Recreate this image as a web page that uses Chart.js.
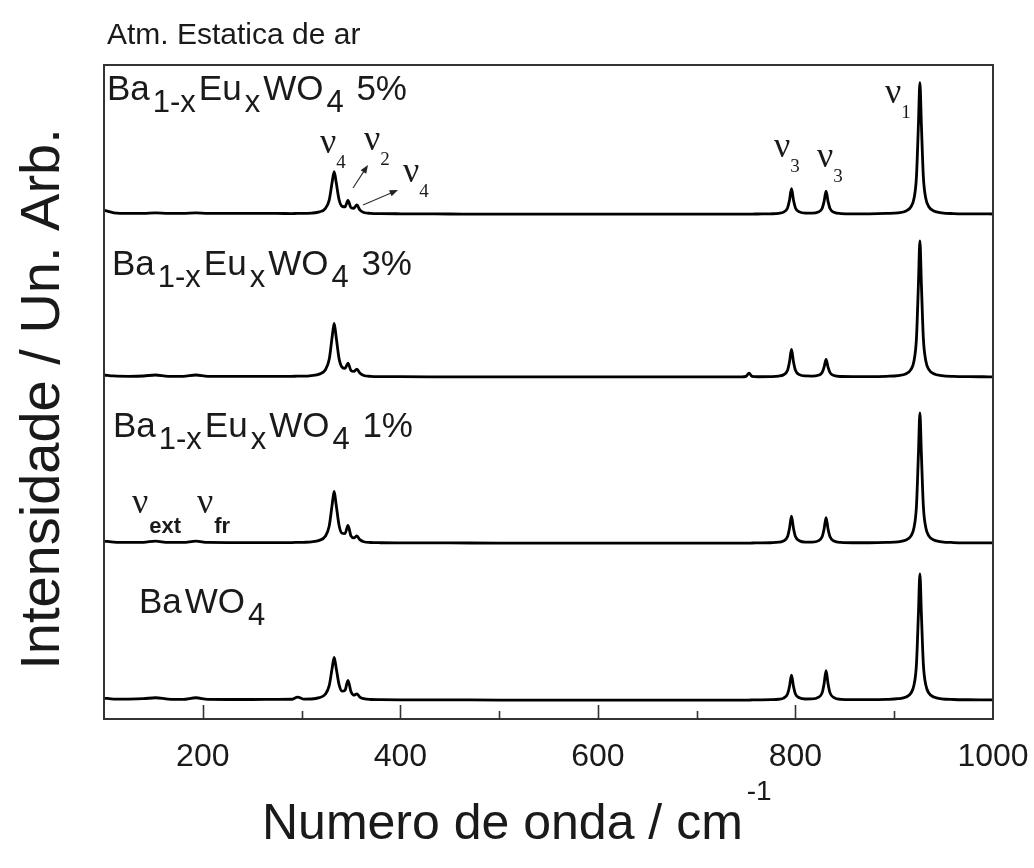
<!DOCTYPE html>
<html>
<head>
<meta charset="utf-8">
<script src="https://cdn.jsdelivr.net/npm/chart.js@4.4.1/dist/chart.umd.min.js"></script>
<style>
  html, body { margin: 0; padding: 0; background: #fff; }
  #wrap { width: 1034px; height: 868px; }
</style>
</head>
<body>
<div id="wrap"><canvas id="raman" width="1034" height="868"></canvas></div>
<script>
// Raman spectra of Ba(1-x)Eu(x)WO4 (arb. units, baseline = 0)
const wavenumber = [
  100, 110, 125, 140, 152, 165, 180, 193, 205, 225,
  250, 275, 290, 296, 302, 310, 318, 324, 328, 331,
  333, 335, 338, 341, 344, 347, 350, 353, 356, 359,
  363, 370, 380, 400, 450, 500, 550, 600, 650, 700,
  735, 745, 750, 753, 756, 762, 775, 783, 788, 792,
  794, 796, 798, 800, 804, 810, 817, 823, 827, 829,
  831, 833, 835, 839, 846, 858, 875, 892, 904, 912,
  917, 920, 922.5, 924.5, 926, 927.5, 929.5, 932, 935, 940,
  948, 960, 975, 990, 1000
];

const intBaWO4 = [
  0.3, 0.15, 0.15, 0.2, 0.35, 0.15, 0.1, 0.35, 0.1, 0.08,
  0.08, 0.1, 0.12, 0.45, 0.15, 0.16, 0.36, 0.88, 2.2, 4.9,
  6.5, 4.95, 2.35, 1.35, 1.5, 3.0, 1.3, 0.75, 0.95, 0.45,
  0.2, 0.08, 0.05, 0.03, 0.02, 0, 0, 0, 0, 0,
  0, 0, 0, 0, 0.01, 0.02, 0.05, 0.12, 0.3, 0.92,
  2.1, 3.8, 2.1, 0.92, 0.34, 0.16, 0.17, 0.4, 1.1, 2.5,
  4.5, 2.5, 1.1, 0.37, 0.11, 0.06, 0.05, 0.09, 0.2, 0.46,
  1.08, 2.28, 5.46, 13.2, 19.3, 13.2, 5.46, 2.28, 1.08, 0.46,
  0.19, 0.08, 0.04, 0.03, 0.02
];

const intEu1 = [
  0.3, 0.15, 0.1, 0.12, 0.3, 0.1, 0.1, 0.3, 0.1, 0.08,
  0.08, 0.08, 0.08, 0.1, 0.12, 0.18, 0.41, 1.03, 2.6, 5.9,
  7.9, 5.9, 2.7, 1.5, 1.45, 2.7, 1.1, 0.8, 1.08, 0.53,
  0.2, 0.09, 0.05, 0.03, 0.02, 0, 0, 0, 0, 0,
  0, 0, 0, 0, 0.01, 0.02, 0.05, 0.13, 0.33, 1.0,
  2.27, 4.1, 2.27, 1.0, 0.36, 0.16, 0.16, 0.34, 0.96, 2.16,
  3.9, 2.16, 0.96, 0.31, 0.1, 0.05, 0.05, 0.1, 0.2, 0.48,
  1.11, 2.35, 5.63, 13.6, 19.9, 13.6, 5.63, 2.35, 1.11, 0.48,
  0.2, 0.08, 0.04, 0.03, 0.02
];

const intEu3 = [
  0.3, 0.15, 0.1, 0.15, 0.3, 0.1, 0.1, 0.3, 0.1, 0.1,
  0.1, 0.1, 0.1, 0.12, 0.12, 0.2, 0.43, 1.07, 2.7, 6.15,
  8.2, 6.15, 2.8, 1.5, 1.3, 2.1, 1.0, 0.85, 1.2, 0.6,
  0.22, 0.1, 0.06, 0.04, 0.02, 0, 0, 0, 0, 0,
  0, 0.02, 0.1, 0.6, 0.1, 0.03, 0.05, 0.13, 0.34, 1.02,
  2.32, 4.2, 2.32, 1.02, 0.36, 0.15, 0.13, 0.25, 0.67, 1.5,
  2.7, 1.5, 0.66, 0.22, 0.07, 0.05, 0.05, 0.1, 0.21, 0.5,
  1.16, 2.45, 5.89, 14.2, 20.8, 14.2, 5.89, 2.45, 1.16, 0.5,
  0.21, 0.08, 0.04, 0.03, 0.02
];

const intEu5 = [
  0.6, 0.2, 0.1, 0.1, 0.2, 0.1, 0.1, 0.2, 0.1, 0.1,
  0.1, 0.1, 0.08, 0.1, 0.1, 0.15, 0.34, 0.85, 2.15, 4.9,
  6.5, 4.9, 2.2, 1.2, 1.1, 2.1, 1.0, 0.9, 1.4, 0.65,
  0.25, 0.12, 0.08, 0.05, 0.02, 0, 0, 0, 0, 0,
  0, 0, 0, 0, 0.01, 0.02, 0.05, 0.12, 0.31, 0.95,
  2.15, 3.9, 2.15, 0.95, 0.34, 0.15, 0.15, 0.31, 0.86, 1.94,
  3.5, 1.94, 0.86, 0.28, 0.09, 0.05, 0.05, 0.1, 0.2, 0.48,
  1.13, 2.37, 5.69, 13.7, 20.1, 13.7, 5.69, 2.37, 1.13, 0.48,
  0.2, 0.08, 0.04, 0.03, 0.02
];

const sampleNames = ['BaWO4', 'Ba1-xEuxWO4 1%', 'Ba1-xEuxWO4 3%', 'Ba1-xEuxWO4 5%'];
const sampleDoping = ['', '1%', '3%', '5%'];
const stackOffsets = [2.9, 26.9, 52.3, 77.2];
const xLabelTicks = [200, 400, 600, 800, 1000];

const spectra = [intBaWO4, intEu1, intEu3, intEu5];

const SANS = '"Liberation Sans", Arial, sans-serif';
const SERIF = '"Liberation Serif", "Times New Roman", serif';
const INK = '#1a1a1a';

// rich text: parts = [text, font, dy]
function drawRich(ctx, x, y, parts, gap) {
  let cx = x;
  parts.forEach(([txt, font, dy]) => {
    ctx.font = font;
    ctx.fillText(txt, cx, y + dy);
    cx += ctx.measureText(txt).width + (gap || 0);
  });
}

function formulaParts(doping) {
  const M = '35px ' + SANS, S = '31px ' + SANS;
  if (!doping) return [['Ba', M, 0], ['WO', M, 0], ['4', S, 12]];
  return [['Ba', M, 0], ['1-x', S, 12], ['Eu', M, 0], ['x', S, 12],
          ['WO', M, 0], ['4', S, 12], [' ' + doping, M, 0]];
}

// where the sample labels sit (px)
const sampleLabelPos = [[139, 613], [113, 437], [112, 275], [107, 100]];

// vibrational mode labels (px)
const modeLabels = [
  { x: 320, y: 153, sub: '4' },
  { x: 364, y: 150, sub: '2' },
  { x: 403, y: 182, sub: '4' },
  { x: 774, y: 157, sub: '3' },
  { x: 817, y: 167, sub: '3' },
  { x: 885, y: 103, sub: '1' },
  { x: 132, y: 513, sub: 'ext', sans: true },
  { x: 197, y: 513, sub: 'fr', sans: true }
];
const arrows = [
  [353, 188, 368, 165],
  [363, 205, 398, 190]
];

function arrow(ctx, x1, y1, x2, y2) {
  const ang = Math.atan2(y2 - y1, x2 - x1);
  const h = 9;
  ctx.beginPath();
  ctx.moveTo(x1, y1);
  ctx.lineTo(x2 - Math.cos(ang) * 5, y2 - Math.sin(ang) * 5);
  ctx.stroke();
  ctx.beginPath();
  ctx.moveTo(x2, y2);
  ctx.lineTo(x2 - h * Math.cos(ang - 0.38), y2 - h * Math.sin(ang - 0.38));
  ctx.lineTo(x2 - h * Math.cos(ang + 0.38), y2 - h * Math.sin(ang + 0.38));
  ctx.closePath();
  ctx.fill();
}

const decor = {
  id: 'decor',
  afterDatasetsDraw(chart) {
    const { ctx, chartArea: a, scales: { x } } = chart;
    ctx.save();

    // frame + inward ticks on the bottom axis
    ctx.strokeStyle = '#333';
    ctx.lineWidth = 2;
    ctx.strokeRect(a.left, a.top, a.right - a.left, a.bottom - a.top);
    ctx.lineWidth = 1.6;
    x.ticks.forEach(t => {
      if (t.value <= x.min || t.value >= x.max) return;
      const px = Math.round(x.getPixelForValue(t.value)) + 0.5;
      const len = t.value % 200 === 0 ? 14 : 8;
      ctx.beginPath();
      ctx.moveTo(px, a.bottom);
      ctx.lineTo(px, a.bottom - len);
      ctx.stroke();
    });

    ctx.fillStyle = INK;
    ctx.textBaseline = 'alphabetic';
    ctx.textAlign = 'left';

    // title
    ctx.font = '30px ' + SANS;
    ctx.fillText('Atm. Estatica de ar', 107, 44);

    // sample labels
    sampleDoping.forEach((d, i) => {
      const [lx, ly] = sampleLabelPos[i];
      drawRich(ctx, lx, ly, formulaParts(d), 3);
    });

    // mode labels
    modeLabels.forEach(m => {
      ctx.font = '36px ' + SERIF;
      ctx.fillText('\u03BD', m.x, m.y);
      const w = ctx.measureText('\u03BD').width;
      if (m.sans) {
        ctx.font = 'bold 22px ' + SANS;
        ctx.fillText(m.sub, m.x + w + 1, m.y + 20);
      } else {
        ctx.font = '19px ' + SERIF;
        ctx.fillText(m.sub, m.x + w, m.y + 15);
      }
    });

    ctx.strokeStyle = '#333';
    ctx.fillStyle = '#222';
    ctx.lineWidth = 1.2;
    arrows.forEach(([x1, y1, x2, y2]) => arrow(ctx, x1, y1, x2, y2));

    // axis titles
    ctx.fillStyle = INK;
    ctx.font = '50px ' + SANS;
    ctx.fillText('Numero de onda / cm', 262, 839);
    const tw = ctx.measureText('Numero de onda / cm').width;
    ctx.font = '28px ' + SANS;
    ctx.fillText('-1', 262 + tw + 4, 800);

    ctx.save();
    ctx.translate(59, 399);
    ctx.rotate(-Math.PI / 2);
    ctx.textAlign = 'center';
    ctx.font = '56px ' + SANS;
    ctx.fillText('Intensidade / Un. Arb.', 0, 0);
    ctx.restore();

    ctx.restore();
  }
};

const datasets = spectra.map((vals, i) => ({
  label: sampleNames[i],
  data: wavenumber.map((w, k) => ({ x: w, y: vals[k] + stackOffsets[i] })),
  borderColor: '#000',
  borderWidth: 2.8,
  pointRadius: 0,
  fill: false,
  cubicInterpolationMode: 'monotone'
}));

new Chart(document.getElementById('raman').getContext('2d'), {
  type: 'line',
  data: { datasets },
  options: {
    responsive: false,
    animation: false,
    layout: { padding: { left: 104, right: 41, top: 65, bottom: 79.8 } },
    plugins: { legend: { display: false }, tooltip: { enabled: false } },
    scales: {
      x: {
        type: 'linear',
        min: 100,
        max: 1000,
        grid: { display: false },
        border: { display: false },
        ticks: {
          stepSize: 100,
          autoSkip: false,
          maxRotation: 0,
          padding: 5,
          color: INK,
          font: { family: SANS, size: 32, lineHeight: 1.6 },
          callback: v => (xLabelTicks.includes(v) ? String(v) : '')
        }
      },
      y: { display: false, min: 0, max: 100 }
    }
  },
  plugins: [decor]
});
</script>
</body>
</html>
